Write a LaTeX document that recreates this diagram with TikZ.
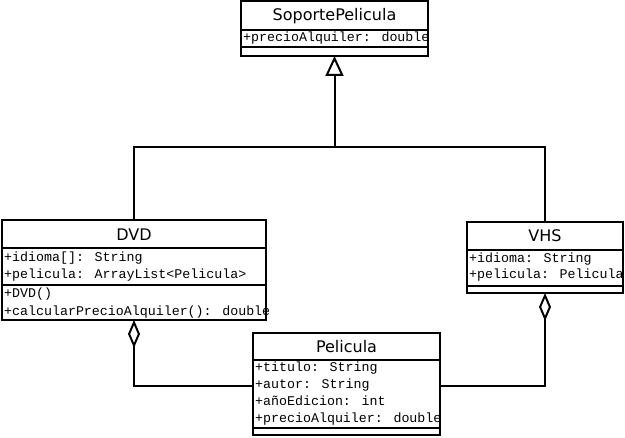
\documentclass[tikz,border=0pt]{standalone}
\usepackage{fontspec}
\setmainfont{DejaVu Sans}
\newfontfamily\umlmono{Liberation Mono}
\usetikzlibrary{arrows.meta}
\tikzset{
  cls/.style={draw, line width=2pt, rectangle, inner sep=0pt, outer sep=0pt, anchor=north west},
  sepline/.style={line width=1.5pt},
  ttl/.style={font=\fontsize{16}{18}\selectfont, anchor=base, inner sep=0pt},
  mem/.style={font=\umlmono\fontsize{13.3}{15}\selectfont, anchor=base west, inner sep=0pt},
  conn/.style={line width=2pt},
  inh/.style={conn, -{Triangle[open, length=20pt, width=18pt]}},
  agg/.style={conn, {Diamond[open, length=28pt, width=12pt]}-},
}
\begin{document}
\begin{tikzpicture}[x=1pt,y=-1pt]
\useasboundingbox (0,0) rectangle (625,438);
% SoportePelicula
\node[cls, minimum width=187pt, minimum height=55pt] (sp) at (241,1) {};
\draw[sepline] (241,30) -- (428,30);
\draw[sepline] (241,47) -- (428,47);
\node[ttl] (spT) at (334.5,21) {SoportePelicula};
\node[mem] (spA1) at (243,42) {+precioAlquiler: double};
% DVD
\node[cls, minimum width=264pt, minimum height=100pt] (dvd) at (2,220) {};
\draw[sepline] (2,248) -- (266,248);
\draw[sepline] (2,285) -- (266,285);
\node[ttl] (dvdT) at (134,241) {DVD};
\node[mem] (dvdA1) at (4,262) {+idioma[]: String};
\node[mem] (dvdA2) at (4,279) {+pelicula: ArrayList<Pelicula>};
\node[mem] (dvdM1) at (4,298) {+DVD()};
\node[mem] (dvdM2) at (4,316) {+calcularPrecioAlquiler(): double};
% VHS
\node[cls, minimum width=156pt, minimum height=71pt] (vhs) at (467,222) {};
\draw[sepline] (467,250) -- (623,250);
\draw[sepline] (467,286) -- (623,286);
\node[ttl] (vhsT) at (545,242) {VHS};
\node[mem] (vhsA1) at (469,263) {+idioma: String};
\node[mem] (vhsA2) at (469,279) {+pelicula: Pelicula};
% Pelicula
\node[cls, minimum width=187pt, minimum height=102pt] (pel) at (253,333) {};
\draw[sepline] (253,360) -- (440,360);
\draw[sepline] (253,428) -- (440,428);
\node[ttl] (pelT) at (346.5,353) {Pelicula};
\node[mem] (pelA1) at (255,372) {+titulo: String};
\node[mem] (pelA2) at (255,389) {+autor: String};
\node[mem] (pelA3) at (255,406) {+añoEdicion: int};
\node[mem] (pelA4) at (255,423) {+precioAlquiler: double};
% connectors
\coordinate (hub) at (334.5,147);
\draw[inh] (hub) -- (sp.south);
\draw[conn] (dvd.north) |- (hub) -| (vhs.north);
\draw[agg] (dvd.south) |- ([yshift=-2pt]pel.west);
\draw[agg] (vhs.south) |- ([yshift=-2pt]pel.east);
\end{tikzpicture}
\end{document}
